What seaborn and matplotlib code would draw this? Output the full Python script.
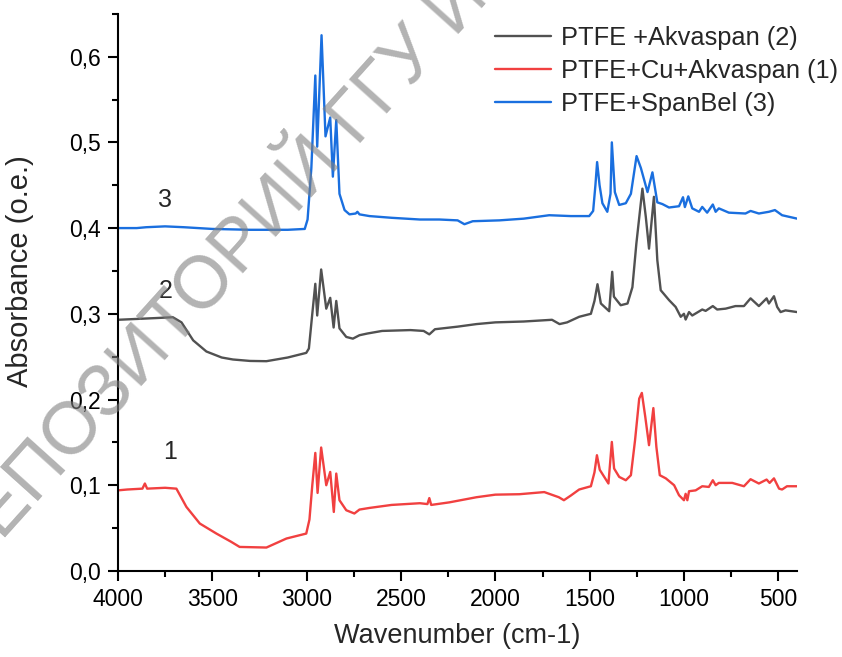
import numpy as np
import pandas as pd
import seaborn as sns
import matplotlib.pyplot as plt
from matplotlib.ticker import MultipleLocator, FuncFormatter

# PTFE+SpanBel (3)
wn_3 = [4000, 3900, 3850, 3750, 3650, 3500, 3300, 3100, 3010, 2995, 2975, 2954, 2944, 2921,
        2900, 2875, 2861, 2843, 2826, 2799, 2773, 2740, 2731, 2720, 2667, 2550, 2400, 2297,
        2200, 2164, 2120, 1979, 1850, 1715, 1600, 1503, 1482, 1470, 1461, 1448, 1433, 1407,
        1390, 1383, 1367, 1344, 1309, 1282, 1252, 1229, 1194, 1168, 1142, 1115, 1080, 1027,
        1006, 996, 978, 957, 921, 904, 878, 848, 833, 816, 763, 675, 648, 604, 551, 519, 481, 401]
abs_3 = [0.400, 0.400, 0.401, 0.402, 0.401, 0.399, 0.398, 0.398, 0.399, 0.410, 0.470, 0.578,
         0.495, 0.625, 0.507, 0.529, 0.460, 0.526, 0.440, 0.421, 0.416, 0.417, 0.419, 0.416,
         0.414, 0.412, 0.410, 0.410, 0.409, 0.4045, 0.408, 0.409, 0.411, 0.415, 0.414, 0.414,
         0.420, 0.450, 0.477, 0.450, 0.429, 0.419, 0.440, 0.500, 0.442, 0.427, 0.429, 0.440,
         0.484, 0.470, 0.442, 0.465, 0.430, 0.428, 0.424, 0.4255, 0.436, 0.4245, 0.437, 0.423,
         0.419, 0.4247, 0.418, 0.4275, 0.419, 0.423, 0.418, 0.417, 0.420, 0.417, 0.419, 0.421,
         0.415, 0.411]

# PTFE +Akvaspan (2)
wn_2 = [4000, 3900, 3800, 3709, 3663, 3601, 3531, 3450, 3391, 3300, 3213, 3100, 3002, 2988,
        2970, 2954, 2944, 2923, 2896, 2875, 2857, 2843, 2826, 2790, 2755, 2720, 2678, 2600,
        2450, 2380, 2350, 2320, 2200, 2100, 2000, 1850, 1700, 1660, 1620, 1556, 1494, 1475,
        1459, 1441, 1397, 1381, 1372, 1336, 1300, 1274, 1253, 1221, 1203, 1186, 1160, 1142,
        1124, 1080, 1045, 1018, 1001, 992, 974, 957, 904, 886, 848, 825, 780, 728, 683, 648,
        604, 563, 551, 524, 507, 489, 463, 401]
abs_2 = [0.293, 0.294, 0.295, 0.296, 0.290, 0.269, 0.256, 0.249, 0.2467, 0.245, 0.2447, 0.249,
         0.2544, 0.2595, 0.300, 0.335, 0.298, 0.3517, 0.306, 0.3186, 0.284, 0.315, 0.283,
         0.273, 0.271, 0.275, 0.277, 0.280, 0.281, 0.280, 0.276, 0.282, 0.285, 0.288, 0.290,
         0.291, 0.293, 0.288, 0.290, 0.2965, 0.300, 0.315, 0.3345, 0.312, 0.303, 0.349, 0.320,
         0.310, 0.312, 0.331, 0.382, 0.446, 0.413, 0.376, 0.4365, 0.3625, 0.3275, 0.316, 0.308,
         0.2965, 0.300, 0.2933, 0.302, 0.298, 0.305, 0.3034, 0.309, 0.305, 0.306, 0.309, 0.309,
         0.318, 0.309, 0.318, 0.312, 0.3205, 0.308, 0.302, 0.304, 0.302]

# PTFE+Cu+Akvaspan (1)
wn_1 = [4000, 3950, 3870, 3857, 3845, 3750, 3690, 3637, 3566, 3478, 3400, 3355, 3213, 3107,
        3002, 2985, 2970, 2954, 2942, 2923, 2896, 2875, 2856, 2843, 2826, 2790, 2747, 2720,
        2667, 2550, 2400, 2360, 2350, 2340, 2244, 2100, 2000, 1873, 1741, 1664, 1637, 1600,
        1556, 1494, 1475, 1462, 1447, 1401, 1383, 1371, 1344, 1309, 1282, 1260, 1238, 1224,
        1206, 1186, 1163, 1147, 1129, 1097, 1053, 1027, 1001, 992, 983, 974, 939, 904, 869,
        848, 833, 816, 745, 683, 648, 604, 563, 547, 524, 497, 481, 455, 401]
abs_1 = [0.094, 0.095, 0.096, 0.102, 0.096, 0.097, 0.096, 0.0747, 0.0553, 0.0436, 0.034, 0.028,
         0.0273, 0.0378, 0.0436, 0.060, 0.100, 0.1377, 0.091, 0.144, 0.100, 0.1155, 0.0688,
         0.1136, 0.0825, 0.0708, 0.067, 0.0716, 0.0735, 0.077, 0.079, 0.078, 0.085, 0.077,
         0.080, 0.086, 0.089, 0.0895, 0.092, 0.086, 0.0825, 0.088, 0.095, 0.0988, 0.115, 0.135,
         0.118, 0.102, 0.1505, 0.1195, 0.1097, 0.1058, 0.1117, 0.1525, 0.201, 0.2077, 0.180,
         0.1467, 0.190, 0.1447, 0.1117, 0.108, 0.100, 0.0883, 0.0825, 0.090, 0.0825, 0.093,
         0.094, 0.0988, 0.098, 0.1058, 0.100, 0.1027, 0.1027, 0.0988, 0.107, 0.102, 0.1066,
         0.1027, 0.108, 0.096, 0.095, 0.0988, 0.0988]

labels = ['PTFE +Akvaspan (2)', 'PTFE+Cu+Akvaspan (1)', 'PTFE+SpanBel (3)']
colors = ['#515151', '#F14040', '#1A6FDF']

sns.set_style('ticks')
plt.rcParams['font.family'] = ['Liberation Sans', 'DejaVu Sans']

fig = plt.figure(figsize=(8.42, 6.57), dpi=100)
ax = fig.add_axes([0.140, 0.131, 0.807, 0.848])

for wn, ab, lab, col in zip([wn_2, wn_1, wn_3], [abs_2, abs_1, abs_3], labels, colors):
    sns.lineplot(x=wn, y=ab, ax=ax, color=col, label=lab, linewidth=1.7, estimator=None)

ax.set_xlim(4000, 400)
ax.set_ylim(0, 0.65)
ax.xaxis.set_major_locator(MultipleLocator(500))
ax.xaxis.set_minor_locator(MultipleLocator(250))
ax.yaxis.set_major_locator(MultipleLocator(0.1))
ax.yaxis.set_minor_locator(MultipleLocator(0.05))
ax.yaxis.set_major_formatter(FuncFormatter(lambda v, p: f'{v:.1f}'.replace('.', ',')))
ax.tick_params(which='major', length=7, width=1.5, labelsize=16.5, color='black',
               labelcolor='black', pad=5)
ax.tick_params(which='minor', length=4, width=1.5, color='black')
sns.despine(ax=ax)
for s in ['left', 'bottom']:
    ax.spines[s].set_linewidth(1.5)
    ax.spines[s].set_color('black')

ax.set_xlabel('Wavenumber (cm-1)', fontsize=19.5, labelpad=9)
ax.set_ylabel('Absorbance (o.e.)', fontsize=21)
ax.yaxis.set_label_coords(-0.123, 0.538)

ax.text(3751, 0.4325, '3', fontsize=18, ha='center', va='center')
ax.text(3746, 0.327, '2', fontsize=18, ha='center', va='center')
ax.text(3725, 0.1385, '1', fontsize=18, ha='center', va='center')

ax.legend(loc='upper left', bbox_to_anchor=(0.588, 0.96), bbox_transform=fig.transFigure,
          frameon=False, fontsize=18.3, handlelength=2.2, handletextpad=0.4,
          labelspacing=0.34, borderpad=0, borderaxespad=0)

# repository watermark
fig.text(-0.055, 0.14, 'РЕПОЗИТОРИЙ ГГУ ИМЕНИ Ф. СКОРИНЫ', transform=fig.transFigure,
         fontsize=53, color='#808080', alpha=0.6, rotation=48, rotation_mode='anchor',
         ha='left', va='center', zorder=10)

fig.savefig('out.png', dpi=100)
